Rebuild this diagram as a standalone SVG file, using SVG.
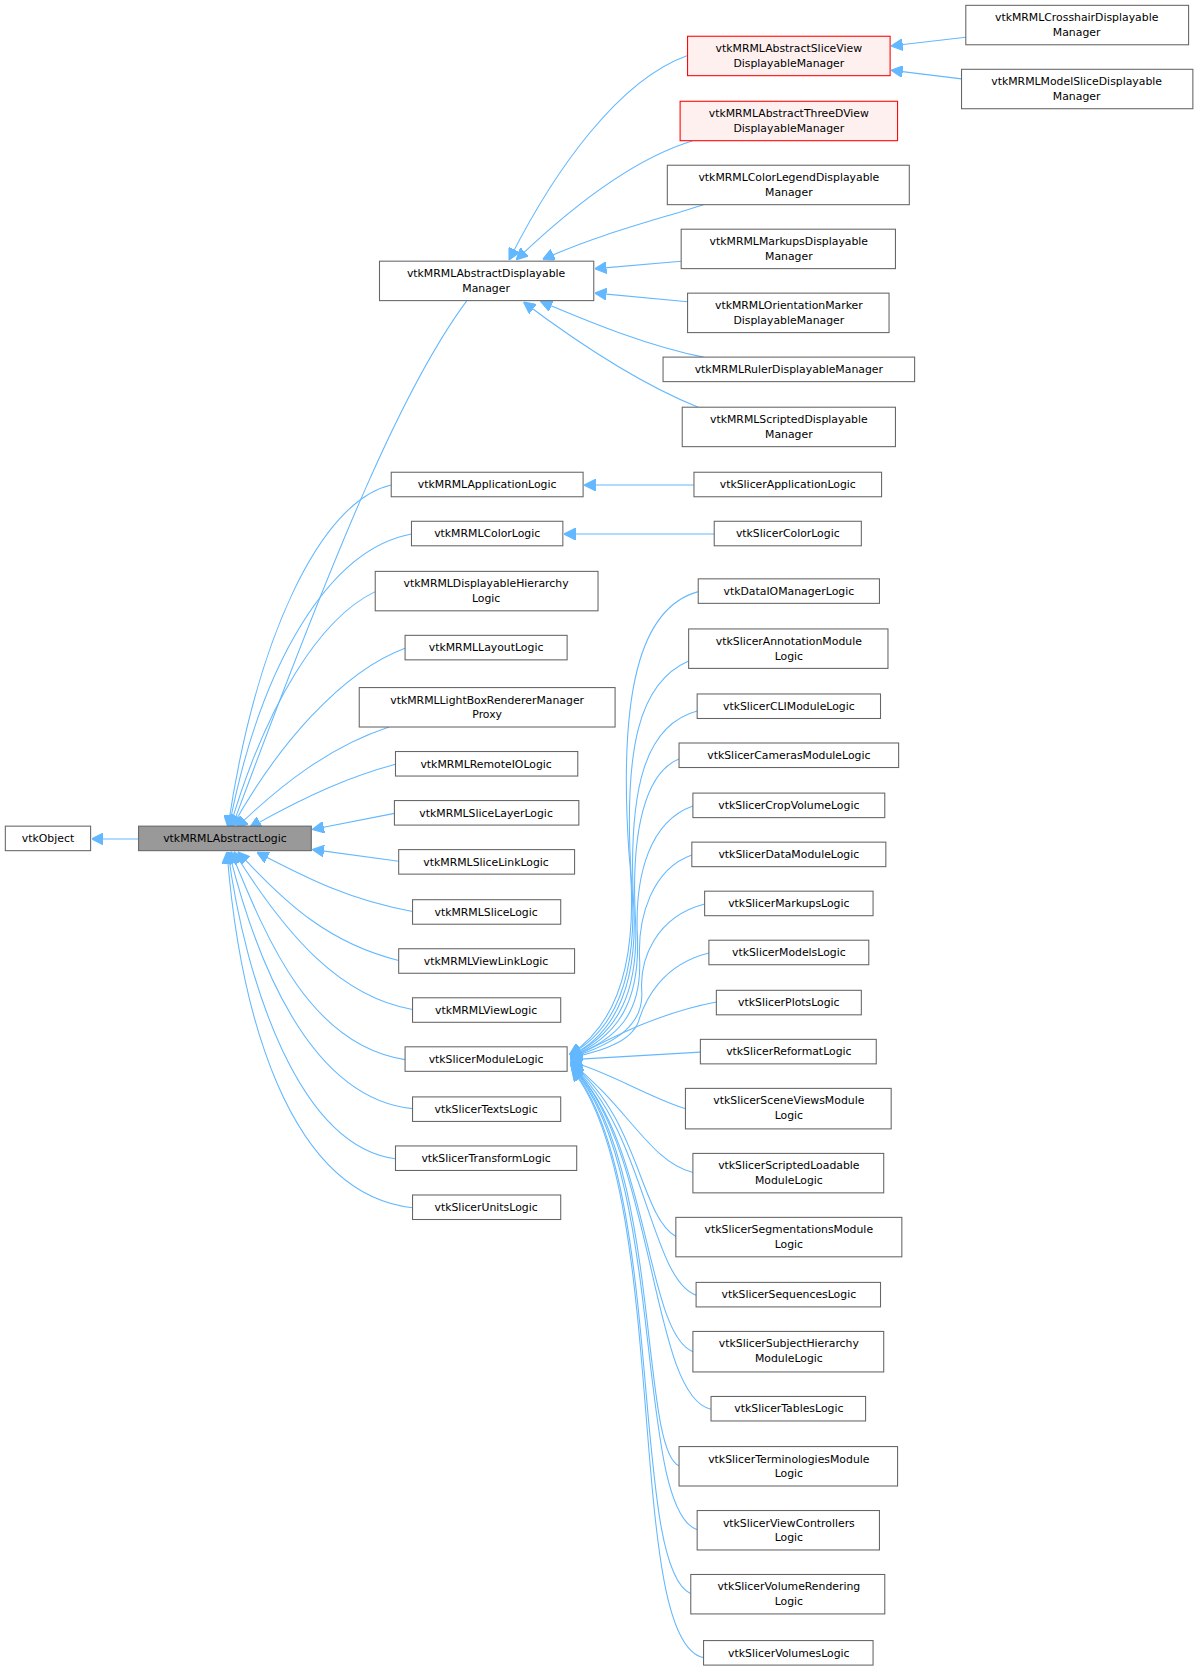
<svg xmlns="http://www.w3.org/2000/svg" width="1197" height="1670" viewBox="0 0 1197 1670">
<style>
.n rect{fill:#fff;stroke:#666;stroke-width:1}
.r rect{fill:#fff0f0;stroke:#f00}
.g rect{fill:#999}
text{font-family:"DejaVu Sans","Liberation Sans",sans-serif;font-size:10.2px;fill:#000;text-anchor:middle}
.e path{fill:none;stroke:#63b8ff;stroke-width:1}
</style>
<defs><marker id="a" viewBox="0 0 10 10" refX="9" refY="5" markerWidth="11" markerHeight="11" markerUnits="userSpaceOnUse" orient="auto"><path d="M0,0 L10,5 L0,10 z" fill="#63b8ff" stroke="#63b8ff"/></marker></defs>
<rect width="1197" height="1670" fill="#fff"/>
<g transform="scale(1.066)">
<g class="e" marker-end="url(#a)">
<path d="M130,787 H87" marker-end="url(#a)"/>
<path d="M438,282 C380,360 320,500 218,775" marker-end="url(#a)"/>
<path d="M367,455 C300,470 240,600 214,775" marker-end="url(#a)"/>
<path d="M386,501 C310,515 245,620 215,775" marker-end="url(#a)"/>
<path d="M352,555 C300,580 250,660 216,775" marker-end="url(#a)"/>
<path d="M380,608 C320,630 260,700 218,775" marker-end="url(#a)"/>
<path d="M365,682 C310,700 265,735 222,776" marker-end="url(#a)"/>
<path d="M371,717 C330,728 290,745 235,776" marker-end="url(#a)"/>
<path d="M370,763 L294,778" marker-end="url(#a)"/>
<path d="M374,808 L294,797" marker-end="url(#a)"/>
<path d="M387,855 C330,845 290,825 242,800" marker-end="url(#a)"/>
<path d="M374,901 C310,885 270,850 224,800" marker-end="url(#a)"/>
<path d="M387,947 C320,935 270,880 220,800" marker-end="url(#a)"/>
<path d="M380,994 C290,980 250,880 217,800" marker-end="url(#a)"/>
<path d="M387,1040 C290,1030 240,900 215,800" marker-end="url(#a)"/>
<path d="M371,1087 C280,1075 230,920 214,800" marker-end="url(#a)"/>
<path d="M387,1133 C270,1120 225,950 213,800" marker-end="url(#a)"/>
<path d="M645,52 C580,75 520,160 478,243" marker-end="url(#a)"/>
<path d="M650,132 C590,150 530,200 485,243" marker-end="url(#a)"/>
<path d="M660,192 C620,205 560,220 510,243" marker-end="url(#a)"/>
<path d="M639,245 L559,252" marker-end="url(#a)"/>
<path d="M645,283 L559,275" marker-end="url(#a)"/>
<path d="M660,335 C610,325 560,305 508,283" marker-end="url(#a)"/>
<path d="M655,382 C600,360 540,320 492,284" marker-end="url(#a)"/>
<path d="M906,35 L837,43" marker-end="url(#a)"/>
<path d="M902,74 L837,66" marker-end="url(#a)"/>
<path d="M651,455 H549" marker-end="url(#a)"/>
<path d="M670,501 H530" marker-end="url(#a)"/>
<path d="M655,555 C600,570 580,650 590,800 C600,900 580,960 535,989" marker-end="url(#a)"/>
<path d="M646,620 C600,640 585,700 592,820 C600,910 580,965 535,989" marker-end="url(#a)"/>
<path d="M654,667 C605,680 590,740 594,840 C600,920 580,968 536,990" marker-end="url(#a)"/>
<path d="M637,712 C605,725 592,780 596,860 C600,930 580,970 536,990" marker-end="url(#a)"/>
<path d="M650,756 C610,770 595,820 598,880 C600,940 580,972 536,991" marker-end="url(#a)"/>
<path d="M649,802 C612,815 598,860 600,900 C602,950 580,975 536,991" marker-end="url(#a)"/>
<path d="M661,848 C615,860 600,900 602,930 C604,960 580,978 536,992" marker-end="url(#a)"/>
<path d="M665,894 C620,905 605,940 600,955 C595,975 570,985 536,992" marker-end="url(#a)"/>
<path d="M672,940 C620,950 580,970 536,993" marker-end="url(#a)"/>
<path d="M657,987 L536,994" marker-end="url(#a)"/>
<path d="M643,1040 C610,1030 570,1005 536,996" marker-end="url(#a)"/>
<path d="M650,1100 C610,1090 590,1040 536,997" marker-end="url(#a)"/>
<path d="M634,1160 C600,1140 600,1050 536,998" marker-end="url(#a)"/>
<path d="M653,1215 C610,1200 605,1060 536,999" marker-end="url(#a)"/>
<path d="M650,1268 C605,1250 610,1070 536,1000" marker-end="url(#a)"/>
<path d="M667,1322 C610,1310 615,1080 537,1000" marker-end="url(#a)"/>
<path d="M637,1375 C600,1360 620,1090 537,1001" marker-end="url(#a)"/>
<path d="M654,1435 C595,1415 625,1100 537,1002" marker-end="url(#a)"/>
<path d="M648,1495 C590,1470 625,1110 537,1003" marker-end="url(#a)"/>
<path d="M660,1555 C585,1540 630,1120 537,1004" marker-end="url(#a)"/>
</g>
<g id="vtkObject" class="n"><rect x="5" y="775" width="80" height="23"/><text x="45" y="790">vtkObject</text></g>
<g id="vtkMRMLAbstractLogic" class="n g"><rect x="130" y="775" width="162" height="23"/><text x="211" y="790">vtkMRMLAbstractLogic</text></g>
<g id="vtkMRMLAbstractDisplayableManager" class="n"><rect x="356" y="245" width="201" height="37"/><text x="456" y="260">vtkMRMLAbstractDisplayable</text><text x="456" y="274">Manager</text></g>
<g id="vtkMRMLApplicationLogic" class="n"><rect x="367" y="443" width="180" height="23"/><text x="457" y="458">vtkMRMLApplicationLogic</text></g>
<g id="vtkMRMLColorLogic" class="n"><rect x="386" y="489" width="142" height="23"/><text x="457" y="504">vtkMRMLColorLogic</text></g>
<g id="vtkMRMLDisplayableHierarchyLogic" class="n"><rect x="352" y="536" width="209" height="37"/><text x="456" y="551">vtkMRMLDisplayableHierarchy</text><text x="456" y="565">Logic</text></g>
<g id="vtkMRMLLayoutLogic" class="n"><rect x="380" y="596" width="152" height="23"/><text x="456" y="611">vtkMRMLLayoutLogic</text></g>
<g id="vtkMRMLLightBoxRendererManagerProxy" class="n"><rect x="337" y="645" width="240" height="37"/><text x="457" y="660">vtkMRMLLightBoxRendererManager</text><text x="457" y="674">Proxy</text></g>
<g id="vtkMRMLRemoteIOLogic" class="n"><rect x="371" y="705" width="171" height="23"/><text x="456" y="720">vtkMRMLRemoteIOLogic</text></g>
<g id="vtkMRMLSliceLayerLogic" class="n"><rect x="370" y="751" width="173" height="23"/><text x="456" y="766">vtkMRMLSliceLayerLogic</text></g>
<g id="vtkMRMLSliceLinkLogic" class="n"><rect x="374" y="797" width="165" height="23"/><text x="456" y="812">vtkMRMLSliceLinkLogic</text></g>
<g id="vtkMRMLSliceLogic" class="n"><rect x="387" y="844" width="139" height="23"/><text x="456" y="859">vtkMRMLSliceLogic</text></g>
<g id="vtkMRMLViewLinkLogic" class="n"><rect x="374" y="890" width="165" height="23"/><text x="456" y="905">vtkMRMLViewLinkLogic</text></g>
<g id="vtkMRMLViewLogic" class="n"><rect x="387" y="936" width="139" height="23"/><text x="456" y="951">vtkMRMLViewLogic</text></g>
<g id="vtkSlicerModuleLogic" class="n"><rect x="380" y="982" width="152" height="23"/><text x="456" y="997">vtkSlicerModuleLogic</text></g>
<g id="vtkSlicerTextsLogic" class="n"><rect x="387" y="1029" width="139" height="23"/><text x="456" y="1044">vtkSlicerTextsLogic</text></g>
<g id="vtkSlicerTransformLogic" class="n"><rect x="371" y="1075" width="170" height="23"/><text x="456" y="1090">vtkSlicerTransformLogic</text></g>
<g id="vtkSlicerUnitsLogic" class="n"><rect x="387" y="1121" width="139" height="23"/><text x="456" y="1136">vtkSlicerUnitsLogic</text></g>
<g id="vtkMRMLAbstractSliceViewDisplayableManager" class="n r"><rect x="645" y="34" width="190" height="37"/><text x="740" y="49">vtkMRMLAbstractSliceView</text><text x="740" y="63">DisplayableManager</text></g>
<g id="vtkMRMLAbstractThreeDViewDisplayableManager" class="n r"><rect x="638" y="95" width="204" height="37"/><text x="740" y="110">vtkMRMLAbstractThreeDView</text><text x="740" y="124">DisplayableManager</text></g>
<g id="vtkMRMLColorLegendDisplayableManager" class="n"><rect x="626" y="155" width="227" height="37"/><text x="740" y="170">vtkMRMLColorLegendDisplayable</text><text x="740" y="184">Manager</text></g>
<g id="vtkMRMLMarkupsDisplayableManager" class="n"><rect x="639" y="215" width="201" height="37"/><text x="740" y="230">vtkMRMLMarkupsDisplayable</text><text x="740" y="244">Manager</text></g>
<g id="vtkMRMLOrientationMarkerDisplayableManager" class="n"><rect x="645" y="275" width="189" height="37"/><text x="740" y="290">vtkMRMLOrientationMarker</text><text x="740" y="304">DisplayableManager</text></g>
<g id="vtkMRMLRulerDisplayableManager" class="n"><rect x="622" y="335" width="236" height="23"/><text x="740" y="350">vtkMRMLRulerDisplayableManager</text></g>
<g id="vtkMRMLScriptedDisplayableManager" class="n"><rect x="640" y="382" width="200" height="37"/><text x="740" y="397">vtkMRMLScriptedDisplayable</text><text x="740" y="411">Manager</text></g>
<g id="vtkMRMLCrosshairDisplayableManager" class="n"><rect x="906" y="5" width="209" height="37"/><text x="1010" y="20">vtkMRMLCrosshairDisplayable</text><text x="1010" y="34">Manager</text></g>
<g id="vtkMRMLModelSliceDisplayableManager" class="n"><rect x="902" y="65" width="217" height="37"/><text x="1010" y="80">vtkMRMLModelSliceDisplayable</text><text x="1010" y="94">Manager</text></g>
<g id="vtkSlicerApplicationLogic" class="n"><rect x="651" y="443" width="176" height="23"/><text x="739" y="458">vtkSlicerApplicationLogic</text></g>
<g id="vtkSlicerColorLogic" class="n"><rect x="670" y="489" width="138" height="23"/><text x="739" y="504">vtkSlicerColorLogic</text></g>
<g id="vtkDataIOManagerLogic" class="n"><rect x="655" y="543" width="170" height="23"/><text x="740" y="558">vtkDataIOManagerLogic</text></g>
<g id="vtkSlicerAnnotationModuleLogic" class="n"><rect x="646" y="590" width="187" height="37"/><text x="740" y="605">vtkSlicerAnnotationModule</text><text x="740" y="619">Logic</text></g>
<g id="vtkSlicerCLIModuleLogic" class="n"><rect x="654" y="651" width="172" height="23"/><text x="740" y="666">vtkSlicerCLIModuleLogic</text></g>
<g id="vtkSlicerCamerasModuleLogic" class="n"><rect x="637" y="697" width="206" height="23"/><text x="740" y="712">vtkSlicerCamerasModuleLogic</text></g>
<g id="vtkSlicerCropVolumeLogic" class="n"><rect x="650" y="744" width="180" height="23"/><text x="740" y="759">vtkSlicerCropVolumeLogic</text></g>
<g id="vtkSlicerDataModuleLogic" class="n"><rect x="649" y="790" width="182" height="23"/><text x="740" y="805">vtkSlicerDataModuleLogic</text></g>
<g id="vtkSlicerMarkupsLogic" class="n"><rect x="661" y="836" width="158" height="23"/><text x="740" y="851">vtkSlicerMarkupsLogic</text></g>
<g id="vtkSlicerModelsLogic" class="n"><rect x="665" y="882" width="150" height="23"/><text x="740" y="897">vtkSlicerModelsLogic</text></g>
<g id="vtkSlicerPlotsLogic" class="n"><rect x="672" y="929" width="136" height="23"/><text x="740" y="944">vtkSlicerPlotsLogic</text></g>
<g id="vtkSlicerReformatLogic" class="n"><rect x="657" y="975" width="165" height="23"/><text x="740" y="990">vtkSlicerReformatLogic</text></g>
<g id="vtkSlicerSceneViewsModuleLogic" class="n"><rect x="643" y="1021" width="193" height="38"/><text x="740" y="1036">vtkSlicerSceneViewsModule</text><text x="740" y="1050">Logic</text></g>
<g id="vtkSlicerScriptedLoadableModuleLogic" class="n"><rect x="650" y="1082" width="179" height="37"/><text x="740" y="1097">vtkSlicerScriptedLoadable</text><text x="740" y="1111">ModuleLogic</text></g>
<g id="vtkSlicerSegmentationsModuleLogic" class="n"><rect x="634" y="1142" width="212" height="37"/><text x="740" y="1157">vtkSlicerSegmentationsModule</text><text x="740" y="1171">Logic</text></g>
<g id="vtkSlicerSequencesLogic" class="n"><rect x="653" y="1203" width="173" height="23"/><text x="740" y="1218">vtkSlicerSequencesLogic</text></g>
<g id="vtkSlicerSubjectHierarchyModuleLogic" class="n"><rect x="650" y="1249" width="179" height="38"/><text x="740" y="1264">vtkSlicerSubjectHierarchy</text><text x="740" y="1278">ModuleLogic</text></g>
<g id="vtkSlicerTablesLogic" class="n"><rect x="667" y="1310" width="145" height="23"/><text x="740" y="1325">vtkSlicerTablesLogic</text></g>
<g id="vtkSlicerTerminologiesModuleLogic" class="n"><rect x="637" y="1357" width="205" height="37"/><text x="740" y="1372">vtkSlicerTerminologiesModule</text><text x="740" y="1386">Logic</text></g>
<g id="vtkSlicerViewControllersLogic" class="n"><rect x="654" y="1417" width="171" height="37"/><text x="740" y="1432">vtkSlicerViewControllers</text><text x="740" y="1446">Logic</text></g>
<g id="vtkSlicerVolumeRenderingLogic" class="n"><rect x="648" y="1477" width="182" height="37"/><text x="740" y="1492">vtkSlicerVolumeRendering</text><text x="740" y="1506">Logic</text></g>
<g id="vtkSlicerVolumesLogic" class="n"><rect x="660" y="1539" width="159" height="23"/><text x="740" y="1554">vtkSlicerVolumesLogic</text></g>
</g>
</svg>
